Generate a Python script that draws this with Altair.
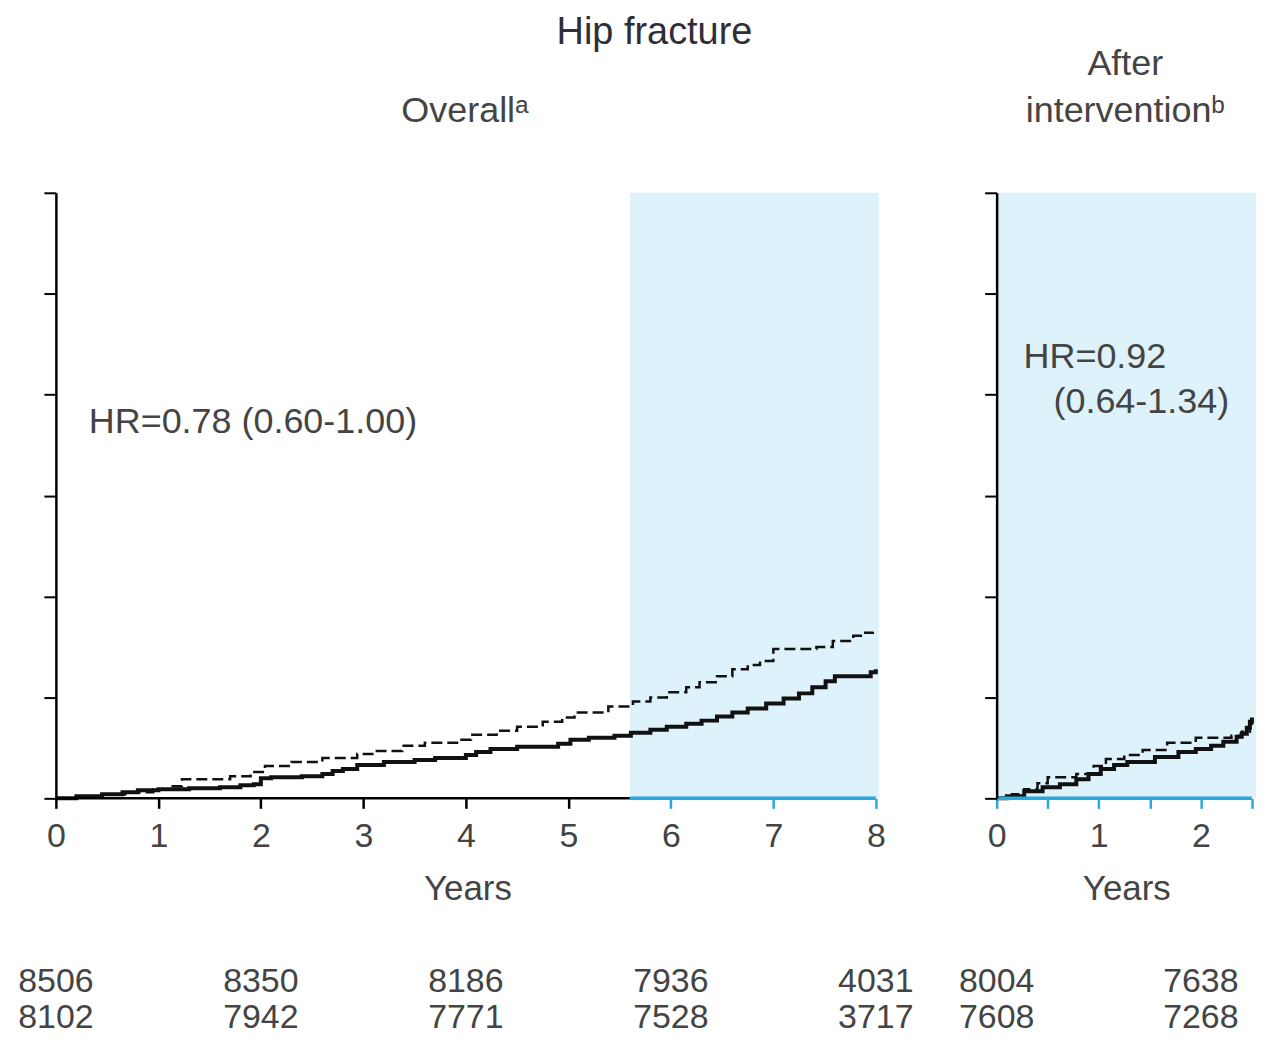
import altair as alt
import pandas as pd

# ---- data ----
left_solid_t = [0, 0.2, 0.45, 0.65, 0.8, 1.0, 1.3, 1.6, 1.8, 1.93, 2.0, 2.1, 2.4, 2.6, 2.7, 2.8, 2.94, 3.2, 3.5, 3.7,
                4.0, 4.1, 4.24, 4.5, 4.9, 5.02, 5.2, 5.45, 5.61, 5.8, 5.96, 6.15, 6.3, 6.45, 6.6, 6.75, 6.93, 7.1,
                7.25, 7.38, 7.51, 7.6, 7.95, 8.0]
left_solid_v = [0, 0.02, 0.04, 0.06, 0.08, 0.09, 0.10, 0.11, 0.13, 0.14, 0.20, 0.21, 0.22, 0.24, 0.27, 0.29, 0.33, 0.36,
                0.38, 0.40, 0.43, 0.46, 0.49, 0.51, 0.54, 0.58, 0.60, 0.62, 0.65, 0.68, 0.71, 0.74, 0.77, 0.81, 0.85,
                0.89, 0.94, 0.99, 1.04, 1.10, 1.16, 1.21, 1.25, 1.28]
left_dash_t = [0, 0.2, 0.45, 0.7, 0.95, 1.1, 1.23, 1.7, 1.9, 2.04, 2.3, 2.6, 2.94, 3.1, 3.38, 3.6, 3.94, 4.05, 4.3,
               4.5, 4.75, 4.94, 5.06, 5.39, 5.63, 5.8, 5.96, 6.15, 6.28, 6.45, 6.6, 6.75, 6.87, 7.0, 7.42, 7.58, 7.78,
               7.87, 7.97]
left_dash_v = [0, 0.02, 0.04, 0.06, 0.09, 0.12, 0.19, 0.22, 0.26, 0.32, 0.36, 0.40, 0.44, 0.47, 0.52, 0.55, 0.58, 0.63,
               0.67, 0.71, 0.76, 0.80, 0.85, 0.91, 0.96, 1.00, 1.05, 1.10, 1.15, 1.21, 1.28, 1.32, 1.36, 1.48, 1.50,
               1.56, 1.61, 1.64, 1.65]

right_solid_t = [0, 0.1, 0.27, 0.45, 0.62, 0.78, 0.9, 1.02, 1.15, 1.28, 1.55, 1.78, 1.95, 2.1, 2.22, 2.35, 2.4, 2.45,
                 2.48, 2.5]
right_solid_v = [0, 0.02, 0.07, 0.11, 0.14, 0.19, 0.24, 0.29, 0.33, 0.36, 0.41, 0.46, 0.49, 0.52, 0.56, 0.61, 0.64,
                 0.70, 0.76, 0.80]
right_dash_t = [0, 0.15, 0.27, 0.4, 0.5, 0.78, 0.95, 1.07, 1.25, 1.43, 1.67, 1.95, 2.1, 2.2, 2.3, 2.4, 2.48, 2.5]
right_dash_v = [0, 0.04, 0.09, 0.15, 0.21, 0.24, 0.32, 0.39, 0.43, 0.48, 0.55, 0.60, 0.60, 0.60, 0.62, 0.66, 0.74, 0.78]

risk_years_left = [0, 2, 4, 6, 8]
risk_treat_left = ["8506", "8350", "8186", "7936", "4031"]
risk_plac_left = ["8102", "7942", "7771", "7528", "3717"]
risk_years_right = [0, 2]
risk_treat_right = ["8004", "7638"]
risk_plac_right = ["7608", "7268"]

left_ticks = [0, 1, 2, 3, 4, 5, 6, 7, 8]
right_ticks = [0, 0.5, 1, 1.5, 2, 2.5]
y_ticks = [0, 1, 2, 3, 4, 5, 6]
shade_start_left = 5.6

# ---- style ----
FONT = "Liberation Sans"
TXT = "#444444"
BLUE = "#29a8e0"
SHADE = "#def2fb"
W_L, W_R, H = 825, 260, 607
XMAX_L, XMAX_R = 8.03, 2.54
NUM_SIZE = 34


def base_axes(domain_max, ticks, label_expr=None, tick_color=None):
    xaxis = dict(values=ticks, title="Years", titleFontSize=35, titleFont=FONT, titleFontWeight="normal",
                 titleColor=TXT, labelFont=FONT, labelFontSize=34, labelColor=TXT, tickSize=10, tickWidth=2.5,
                 domain=False, grid=False, labelPadding=11, titlePadding=18, labelFlush=False)
    if label_expr:
        xaxis["labelExpr"] = label_expr
    if tick_color is not None:
        xaxis["tickColor"] = tick_color
    x = alt.X("t:Q", scale=alt.Scale(domain=[0, domain_max], nice=False, zero=False), axis=alt.Axis(**xaxis))
    y = alt.Y("v:Q", scale=alt.Scale(domain=[0, 6], nice=False),
              axis=alt.Axis(values=y_ticks, labels=False, title=None, tickSize=12, tickWidth=2, tickColor="black",
                            domainColor="black", domainWidth=2.5, grid=False, zindex=1))
    return x, y


def panel(solid_t, solid_v, dash_t, dash_v, shade_from, shade_to, black_axis_to, domain_max, ticks,
          label_expr, tick_color, risk_years, risk_a, risk_b):
    x, y = base_axes(domain_max, ticks, label_expr, tick_color)
    shade = alt.Chart(pd.DataFrame({"t": [shade_from], "t2": [shade_to], "v": [0], "v2": [6]})).mark_rect(
        color=SHADE).encode(x=x, x2="t2:Q", y=y, y2="v2:Q")
    solid = alt.Chart(pd.DataFrame({"t": solid_t, "v": solid_v})).mark_line(
        color="#111111", strokeWidth=4, interpolate="step-after").encode(x=x, y=y)
    dashed = alt.Chart(pd.DataFrame({"t": dash_t, "v": dash_v})).mark_line(
        color="#111111", strokeWidth=2.5, strokeDash=[11, 5], interpolate="step-after").encode(x=x, y=y)
    layers = [shade, solid, dashed]
    if black_axis_to > 0:
        layers.append(alt.Chart(pd.DataFrame({"t": [0], "t2": [black_axis_to], "v": [0]})).mark_rule(
            color="black", strokeWidth=2.5).encode(x=x, x2="t2:Q", y=y))
    layers.append(alt.Chart(pd.DataFrame({"t": [black_axis_to], "t2": [ticks[-1]], "v": [0]})).mark_rule(
        color=BLUE, strokeWidth=3.5).encode(x=x, x2="t2:Q", y=y))
    risk = pd.DataFrame({"t": risk_years, "a": risk_a, "b": risk_b})
    layers.append(alt.Chart(risk).mark_text(font=FONT, fontSize=NUM_SIZE, color=TXT, baseline="middle").encode(
        x=x, y=alt.value(791), text="a:N"))
    layers.append(alt.Chart(risk).mark_text(font=FONT, fontSize=NUM_SIZE, color=TXT, baseline="middle").encode(
        x=x, y=alt.value(827), text="b:N"))
    return layers


def label(text, px, py, align="center", size=36, color=TXT):
    return alt.Chart(pd.DataFrame({"s": [text]})).mark_text(
        font=FONT, fontSize=size, color=color, align=align, baseline="middle").encode(
        x=alt.value(px), y=alt.value(py), text="s:N")


tick_color_left = {"condition": {"test": f"datum.value >= {shade_start_left}", "value": BLUE}, "value": "black"}

left_layers = panel(left_solid_t, left_solid_v, left_dash_t, left_dash_v, shade_start_left, XMAX_L,
                    shade_start_left, XMAX_L, left_ticks, None, tick_color_left,
                    risk_years_left, risk_treat_left, risk_plac_left)
left_layers += [
    label("Hip fracture", 600, -160, size=38, color="#2e2e38"),
    label("Overallᵃ", 410, -82),
    label("HR=0.78 (0.60-1.00)", 33, 230, align="left"),
]
left = alt.layer(*left_layers).properties(width=W_L, height=H)

right_layers = panel(right_solid_t, right_solid_v, right_dash_t, right_dash_v, 0, XMAX_R, 0, XMAX_R,
                     right_ticks, "datum.value % 1 == 0 ? format(datum.value, 'd') : ''", BLUE,
                     risk_years_right, risk_treat_right, risk_plac_right)
right_layers += [
    label("After", 129, -129),
    label("interventionᵇ", 129, -82),
    label("HR=0.92", 27, 165, align="left"),
    label("(0.64-1.34)", 57, 210, align="left"),
]
right = alt.layer(*right_layers).properties(width=W_R, height=H)

chart = alt.hconcat(left, right, spacing=118, bounds="flush").properties(
    padding={"left": 10, "top": 5, "right": 0, "bottom": 0}
).configure_view(stroke=None).configure_axis(labelFont=FONT, titleFont=FONT)

chart.save("out.html", embed_options={"renderer": "svg", "actions": False})
